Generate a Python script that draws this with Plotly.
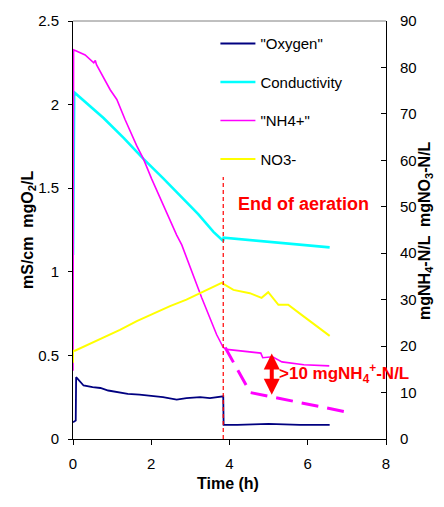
import plotly.graph_objects as go

# ---------------- data ----------------
oxy_t = [0, 0.07, 0.08, 0.15, 0.27, 0.5, 0.7, 0.9, 1.12, 1.4, 1.7, 1.97, 2.3, 2.65,
         2.9, 3.25, 3.5, 3.84, 3.85, 4.2, 5.0, 5.8, 6.56]
oxy = [0.10, 0.11, 0.37, 0.35, 0.32, 0.31, 0.305, 0.29, 0.28, 0.27, 0.265, 0.26, 0.25,
       0.236, 0.245, 0.25, 0.245, 0.255, 0.085, 0.085, 0.09, 0.085, 0.085]

cond_t = [0, 0.03, 0.05, 0.4, 0.78, 1.3, 1.8, 2.3, 2.74, 3.2, 3.59, 3.84, 3.85,
          4.5, 5.2, 5.9, 6.56]
cond = [1.10, 2.05, 2.07, 2.0, 1.92, 1.80, 1.675, 1.56, 1.457, 1.345, 1.239, 1.184,
        1.204, 1.19, 1.175, 1.16, 1.146]

nh4_t = [0, 0.015, 0.1, 0.31, 0.53, 0.57, 0.60, 0.74, 0.95, 1.12, 1.33, 1.63, 1.80,
         2.01, 2.27, 2.65, 2.78, 3.16, 3.29, 3.67, 3.84, 3.93, 4.3, 4.8, 4.85, 5.1,
         5.34, 5.9, 6.55]
nh4 = [14.7, 83.8, 83.5, 82.7, 81.0, 81.5, 80.6, 78.5, 75.2, 73.1, 68.8, 63.1, 60.3,
       56.0, 51.0, 43.9, 41.8, 33.2, 30.4, 22.5, 19.7, 19.3, 18.9, 18.5, 17.5, 17.7,
       16.6, 16.0, 15.75]

no3_t = [0, 0, 0.05, 0.3, 0.78, 1.2, 1.63, 2.05, 2.48, 2.9, 3.25, 3.55, 3.80, 4.1,
         4.52, 4.82, 4.99, 5.25, 5.5, 5.8, 6.05, 6.3, 6.56]
no3 = [16.4, 19.0, 19.0, 20.0, 21.8, 23.5, 25.4, 27.0, 28.6, 30.0, 31.4, 32.6, 33.6,
       32.1, 31.4, 30.4, 31.6, 28.9, 28.9, 27.0, 25.4, 23.8, 22.2]

dash_t = [3.89, 4.53, 7.0]
dash_nh4 = [19.7, 10.0, 5.8]

end_aeration_t = 3.84
end_aeration_top = 56.4
arrow_t = 5.08
arrow_top = 18.4
arrow_bottom = 9.2

x_ticks = [0, 2, 4, 6, 8]
y_left_ticks = [0, 0.5, 1, 1.5, 2, 2.5]
y_right_ticks = [0, 10, 20, 30, 40, 50, 60, 70, 80, 90]

FONT = "Arial, Liberation Sans, sans-serif"

fig = go.Figure()

fig.add_trace(go.Scatter(x=oxy_t, y=oxy, mode="lines", name='"Oxygen"',
                         line=dict(color="#000080", width=1.8), legendgroup="a",
                         yaxis="y"))
fig.add_trace(go.Scatter(x=cond_t, y=cond, mode="lines", name="Conductivity",
                         line=dict(color="#00FFFF", width=2.6), legendgroup="b",
                         yaxis="y"))
fig.add_trace(go.Scatter(x=nh4_t, y=nh4, mode="lines", name='"NH4+"',
                         line=dict(color="#FF00FF", width=1.6), legendgroup="c",
                         yaxis="y2"))
fig.add_trace(go.Scatter(x=no3_t, y=no3, mode="lines", name="NO3-",
                         line=dict(color="#FFFF00", width=2), legendgroup="d",
                         yaxis="y2"))
fig.add_trace(go.Scatter(x=dash_t, y=dash_nh4, mode="lines", showlegend=False,
                         line=dict(color="#FF00FF", width=3, dash="17px,9px"),
                         yaxis="y2"))
fig.add_trace(go.Scatter(x=[end_aeration_t, end_aeration_t], y=[0, end_aeration_top],
                         mode="lines", showlegend=False,
                         line=dict(color="#FF0000", width=1.2, dash="4px,3px"),
                         yaxis="y2"))

fig.update_layout(
    width=444, height=507,
    margin=dict(l=73, r=58, t=18, b=68, pad=0),
    paper_bgcolor="white", plot_bgcolor="white",
    font=dict(family=FONT, size=15, color="black"),
    showlegend=True,
    legend=dict(x=0.455, y=0.985, xanchor="left", yanchor="top",
                bgcolor="rgba(0,0,0,0)", borderwidth=0, itemwidth=35,
                traceorder="grouped", tracegroupgap=16,
                font=dict(family=FONT, size=15, color="black")),
    xaxis=dict(range=[0, 8], tickvals=x_ticks, ticks="outside", ticklen=5,
               tickcolor="black", showline=True, linecolor="black", linewidth=1,
               showgrid=False, zeroline=False, ticklabelstandoff=6,
               tickfont=dict(family=FONT, size=15, color="black")),
    yaxis=dict(range=[0, 2.5], tickvals=y_left_ticks, ticks="outside", ticklen=4,
               tickcolor="black", showline=True, linecolor="black", linewidth=1,
               showgrid=False, zeroline=False, ticklabelstandoff=6,
               tickfont=dict(family=FONT, size=15, color="black")),
    yaxis2=dict(range=[0, 90], tickvals=y_right_ticks, overlaying="y", side="right",
                ticks="inside", ticklen=5, tickcolor="black", showline=True,
                linecolor="black", linewidth=1, showgrid=False, zeroline=False,
                ticklabelstandoff=10,
                tickfont=dict(family=FONT, size=15, color="black")),
    shapes=[dict(type="line", xref="paper", yref="paper", x0=0, x1=1, y0=1, y1=1,
                 line=dict(color="#808080", width=1))],
)

annotations = [
    dict(text="<b>End of aeration</b>", x=5.89, y=50.6, xref="x", yref="y2",
         showarrow=False, font=dict(family=FONT, size=18, color="#FF0000")),
    dict(text="<b>&gt;10 mgNH<sub>4</sub><sup>+</sup>-N/L</b>", x=5.22, y=14.0,
         xref="x", yref="y2", xanchor="left", showarrow=False,
         font=dict(family=FONT, size=17, color="#FF0000")),
    dict(x=arrow_t, y=arrow_top, ax=arrow_t, ay=arrow_bottom, xref="x", yref="y2",
         axref="x", ayref="y2", text="", showarrow=True, arrowhead=2,
         startarrowhead=2, arrowside="end+start", arrowsize=0.8, startarrowsize=0.8,
         arrowwidth=4, arrowcolor="#FF0000"),
    dict(text="<b>mS/cm  mgO<sub>2</sub>/L</b>", x=(17 - 73) / 313, y=(439 - 229) / 421,
         xref="paper", yref="paper", textangle=-90, showarrow=False,
         font=dict(family=FONT, size=16, color="black")),
    dict(text="<b>mgNH<sub>4</sub>-N/L  mgNO<sub>3</sub>-N/L</b>",
         x=(437 - 73) / 313, y=(439 - 229) / 421, xref="paper", yref="paper",
         textangle=-90, showarrow=False,
         font=dict(family=FONT, size=16, color="black")),
    dict(text="<b>Time (h)</b>", x=(228 - 73) / 313, y=(439 - 494) / 421,
         xref="paper", yref="paper", showarrow=False,
         font=dict(family=FONT, size=16, color="black")),
]
fig.update_layout(annotations=annotations)

fig.write_html("out.html")
